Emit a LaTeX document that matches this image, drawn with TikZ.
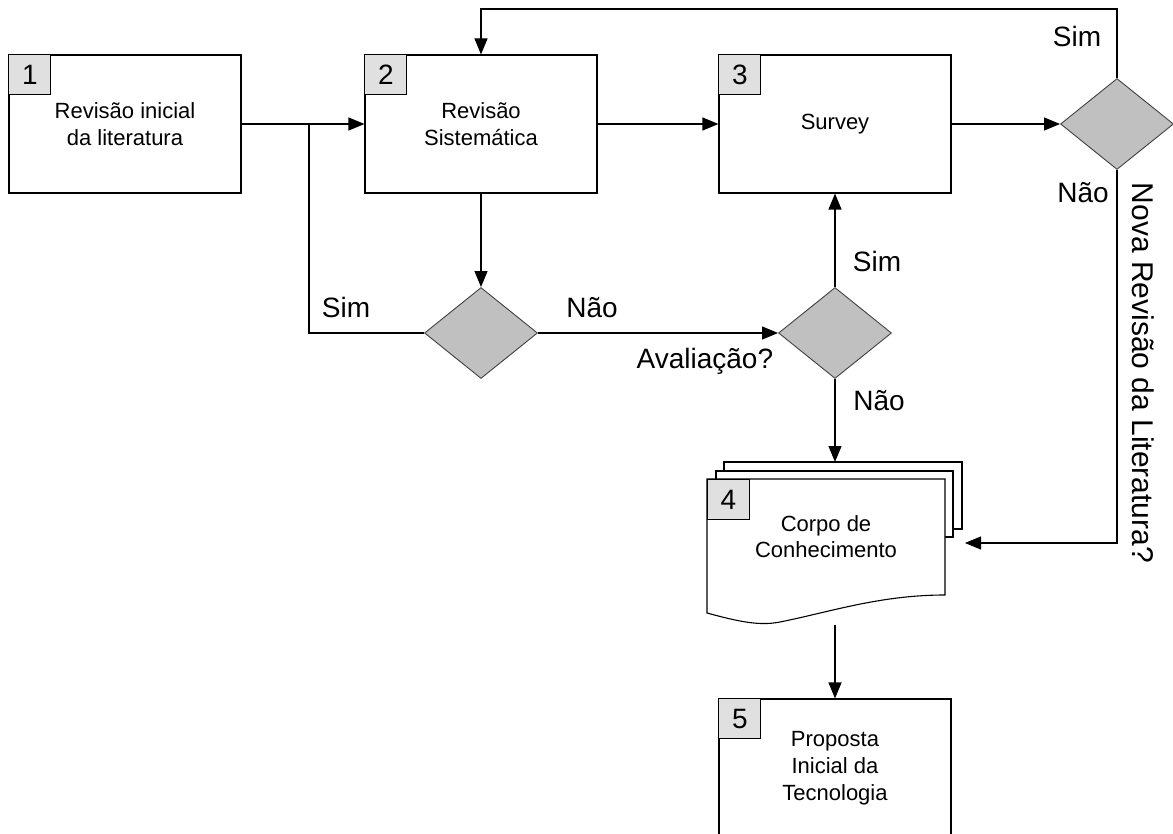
\documentclass[tikz,border=0pt]{standalone}
\usepackage{fontspec}
\setmainfont{Liberation Sans}
\usetikzlibrary{shapes.geometric,arrows.meta}
\definecolor{tagfill}{HTML}{E0E0E0}
\definecolor{decfill}{HTML}{C0C0C0}
\tikzset{
  etapa/.style={draw, rectangle, line width=1.1pt, minimum width=232pt,
    minimum height=138pt, align=center, font=\fontsize{22}{27}\selectfont},
  tag/.style={draw, fill=tagfill, line width=1pt, minimum width=42pt,
    minimum height=40pt, inner sep=0pt, font=\fontsize{28}{30}\selectfont},
  decisao/.style={draw=black!75, fill=decfill, diamond, line width=0.9pt,
    minimum width=113pt, minimum height=91pt, inner sep=0pt},
  rotulo/.style={font=\fontsize{28}{32}\selectfont, anchor=base},
  folha/.style={draw, fill=white, line width=1.1pt}
}
% box with its number in the upper left corner
\newcommand{\etapa}[5]{
  \node[etapa] (#1) at (#2,#3) {#5};
  \node[tag, anchor=north west] (#1-n) at (#1.north west) {#4};
}

\begin{document}
\begin{tikzpicture}[x=1pt, y=-1pt, >={Triangle[length=16pt,width=13pt]}, line width=1.1pt]
	\useasboundingbox (0,0) rectangle (1173,834);
	\clip (0,0) rectangle (1173,834);
	\etapa{b1}{125}{124}{1}{Revisão inicial\\da literatura}
	\etapa{b2}{481}{124}{2}{Revisão\\Sistemática}
	\etapa{b3}{835}{124}{3}{Survey}
	\etapa{b5}{835}{768}{5}{Proposta\\Inicial da\\Tecnologia}
	\node[decisao] (d1) at (481,333) {};
	\node[decisao] (d2) at (835,333) {};
	\node[decisao] (d3) at (1117,124) {};
	% document with stacked pages
	\draw[folha] (724,462) rectangle (962,529);
	\draw[folha] (716,471) rectangle (953,537);
	\draw[folha] (707,479) -- (945,479) -- (945,595)
		.. controls (880,595) and (830,612) .. (780,622)
		.. controls (760,626) and (740,622) .. (707,613) -- cycle;
	\node[align=center, font=\fontsize{22}{26}\selectfont] (doc) at (826,537) {Corpo de\\Conhecimento};
	\node[tag, anchor=north west] (doc-n) at (707,479) {4};
	\coordinate (doc-top) at (835,462);
	\coordinate (doc-bot) at (835,625);
	\coordinate (entrada) at (965,543);
	\coordinate (topo) at (481,9);
	\coordinate (junta) at (309,124);
	\path[->]
	(b1) edge (b2)
	(b2) edge (b3)
	(b3) edge (d3)
	(b2) edge (d1)
	(d1) edge (d2)
	(d2) edge (b3)
	(d2) edge (doc-top)
	(doc-bot) edge (b5);
	\draw[->] (d3.north) |- (topo) -- (b2.north);
	\draw (d1.west) -| (junta);
	\draw[->] (d3.south) |- (entrada);
	\node[rotulo] (l-sim3) at (1077,47) {Sim};
	\node[rotulo] (l-nao3) at (1083,203) {Não};
	\node[rotulo] (l-sim1) at (346,318) {Sim};
	\node[rotulo] (l-nao1) at (592,318) {Não};
	\node[rotulo, anchor=base east] (l-aval) at (777,368) {Avaliação?};
	\node[rotulo] (l-sim2) at (877,272) {Sim};
	\node[rotulo] (l-nao2) at (879,410) {Não};
	\node[font=\fontsize{30}{34}\selectfont, rotate=-90] (l-nova) at (1143,373) {Nova Revisão da Literatura?};
\end{tikzpicture}
\end{document}
